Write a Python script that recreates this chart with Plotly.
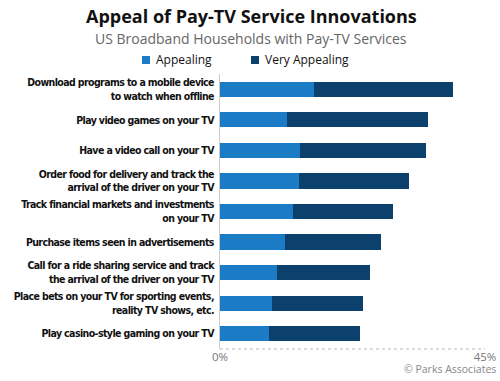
import plotly.graph_objects as go

categories = [
    "Download programs to a mobile device<br>to watch when offline",
    "Play video games on your TV",
    "Have a video call on your TV",
    "Order food for delivery and track the<br>arrival of the driver on your TV",
    "Track financial markets and investments<br>on your TV",
    "Purchase items seen in advertisements",
    "Call for a ride sharing service and track<br>the arrival of the driver on your TV",
    "Place bets on your TV for sporting events,<br>reality TV shows, etc.",
    "Play casino-style gaming on your TV",
]
appealing = [16.0, 11.3, 13.6, 13.4, 12.4, 11.0, 9.7, 8.9, 8.3]
very_appealing = [23.6, 24.0, 21.4, 18.7, 17.0, 16.3, 15.7, 15.4, 15.5]
tick_vals = [0, 45]
tick_text = ["0%", "45%"]

LIGHT = "#1b7bc4"
DARK = "#0c416e"
label_font = dict(family="DejaVu Sans Condensed, sans-serif", size=10.5, color="#111111", weight="bold")

L, R, T, B = 220, 15, 74, 32
PW, PH = 500 - L - R, 381 - T - B


def px(x):
    return (x - L) / PW


def py(y):
    return (381 - B - y) / PH


fig = go.Figure()
fig.add_trace(go.Bar(y=categories, x=appealing, orientation="h", name="Appealing",
                     marker=dict(color=LIGHT, line=dict(width=0)), width=0.5))
fig.add_trace(go.Bar(y=categories, x=very_appealing, orientation="h", name="Very Appealing",
                     marker=dict(color=DARK, line=dict(width=0)), width=0.5))

fig.update_layout(
    barmode="stack",
    width=500, height=381,
    margin=dict(l=L, r=R, t=T, b=B, autoexpand=False),
    paper_bgcolor="white", plot_bgcolor="white",
    showlegend=False,
    xaxis=dict(range=[0, 45], tickvals=tick_vals, ticktext=tick_text, showgrid=False,
               zeroline=False, showline=False, automargin=False,
               tickfont=dict(family="Open Sans, sans-serif", size=11.5, color="#777777"),
               ticks="", ticklabelstandoff=-1),
    yaxis=dict(autorange="reversed", showgrid=False, zeroline=False, automargin=False,
               showline=True, linecolor="#cccccc", linewidth=1,
               tickfont=label_font, ticks="", ticklabelstandoff=3),
)

# dotted bottom axis line
fig.add_shape(type="line", xref="paper", yref="paper", x0=0, x1=1, y0=0, y1=0,
              line=dict(color="#bbbbbb", width=1, dash="dot"))

fig.add_annotation(text="<b>Appeal of Pay-TV Service Innovations</b>", xref="paper", yref="paper",
                   x=px(251), y=py(16), xanchor="center", yanchor="middle",
                   showarrow=False, font=dict(family="Open Sans, sans-serif", size=18, color="#111111"))
fig.add_annotation(text="US Broadband Households with Pay-TV Services", xref="paper", yref="paper",
                   x=px(251), y=py(38), xanchor="center", yanchor="middle",
                   showarrow=False, font=dict(family="Open Sans, sans-serif", size=14, color="#666666"))
# legend
legend_items = [("Appealing", LIGHT, 142), ("Very Appealing", DARK, 251)]
for name, col, lx in legend_items:
    fig.add_shape(type="rect", xref="paper", yref="paper",
                  x0=px(lx), x1=px(lx + 8),
                  y0=py(64), y1=py(56),
                  fillcolor=col, line=dict(width=0))
    fig.add_annotation(text=name, xref="paper", yref="paper",
                       x=px(lx + 12), y=py(60), xanchor="left", yanchor="middle",
                       showarrow=False, font=dict(family="Open Sans, sans-serif", size=12, color="#111111"))
fig.add_annotation(text="© Parks Associates", xref="paper", yref="paper",
                   x=px(498), y=py(369), xanchor="right", yanchor="middle",
                   showarrow=False, font=dict(family="Open Sans, sans-serif", size=10.5, color="#888888"))

post = (
    "document.documentElement.style.margin='0';"
    "document.body.style.margin='0';document.body.style.padding='0';"
    "document.querySelectorAll('.ytick text').forEach(function(t){t.style.letterSpacing='-0.6px';});"
)
fig.write_html("out.html", post_script=post, config={"displayModeBar": False})
